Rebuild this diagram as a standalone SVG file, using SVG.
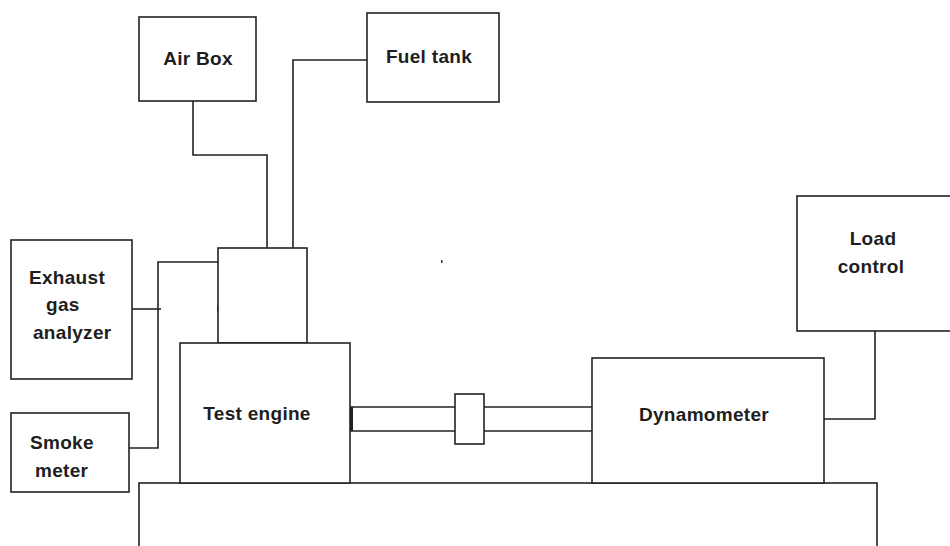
<svg xmlns="http://www.w3.org/2000/svg" width="950" height="546" viewBox="0 0 950 546">
<style>
.box{fill:#fff;stroke:#222;stroke-width:1.6}
.ln{fill:none;stroke:#222;stroke-width:1.6}
.t{font-family:"Liberation Sans",Arial,sans-serif;font-weight:bold;font-size:19px;fill:#1e1e1e;letter-spacing:0.3px}
.c{text-anchor:middle}
</style>
<rect width="950" height="546" fill="#fff"/>
<g id="connectors">
<polyline class="ln" points="193,101 193,155 267,155 267,248"/>
<polyline class="ln" points="367,60 293,60 293,248"/>
<polyline class="ln" points="218,262 158,262 158,448 129,448"/>
<line class="ln" x1="132" y1="309" x2="161" y2="309"/>
<line class="ln" x1="218" y1="306" x2="218" y2="312"/>
<line class="ln" x1="350" y1="407" x2="592" y2="407"/>
<line class="ln" x1="350" y1="431" x2="592" y2="431"/>
<line x1="351.5" y1="407" x2="351.5" y2="431" stroke="#222" stroke-width="3"/>
<polyline class="ln" points="875,331 875,419 824,419"/>
</g>
<g id="base"><rect class="box" x="139" y="483" width="738" height="80"/></g>
<g id="air-box"><rect class="box" x="139" y="17" width="117" height="84"/><text class="t c" x="198" y="65">Air Box</text></g>
<g id="fuel-tank"><rect class="box" x="367" y="13" width="132" height="89"/><text class="t c" x="429" y="63">Fuel tank</text></g>
<g id="engine-head"><rect class="box" x="218" y="248" width="89" height="95"/></g>
<g id="test-engine"><rect class="box" x="180" y="343" width="170" height="140"/><text class="t c" x="257" y="420">Test engine</text></g>
<g id="coupling"><rect class="box" x="455" y="394" width="29" height="50"/></g>
<g id="dynamometer"><rect class="box" x="592" y="358" width="232" height="125"/><text class="t c" x="704" y="421">Dynamometer</text></g>
<g id="load-control"><rect class="box" x="797" y="196" width="160" height="135"/><text class="t c" x="873" y="245">Load</text><text class="t c" x="871" y="273">control</text></g>
<g id="exhaust-gas-analyzer"><rect class="box" x="11" y="240" width="121" height="139"/><text class="t" x="29" y="284">Exhaust</text><text class="t" x="46" y="311">gas</text><text class="t" x="33" y="339">analyzer</text></g>
<g id="smoke-meter"><rect class="box" x="11" y="413" width="118" height="79"/><text class="t" x="30" y="449">Smoke</text><text class="t" x="35" y="477">meter</text></g>
<rect x="441" y="260" width="1.5" height="3" fill="#333"/>
</svg>
